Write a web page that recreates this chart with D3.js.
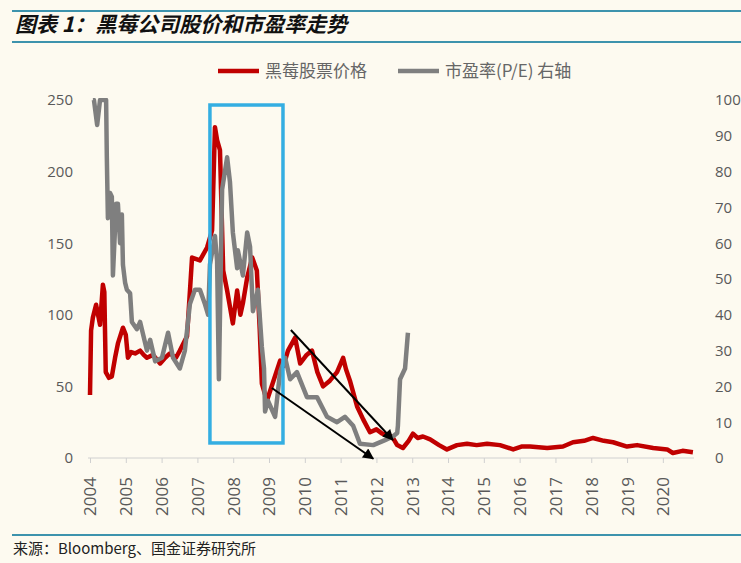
<!DOCTYPE html>
<html>
<head>
<meta charset="UTF-8">
<style>
body { margin: 0; background: #fdfaf0; }
svg { display: block; }
</style>
</head>
<body>
<svg></svg>
<script src="https://d3js.org/d3.v7.min.js"></script>
<script>
// 黑莓股价 (左轴), decimal years
const priceYears = [2004.00, 2004.03, 2004.08, 2004.17, 2004.28, 2004.36, 2004.40, 2004.44, 2004.53, 2004.61,
  2004.70, 2004.78, 2004.92, 2005.00, 2005.06, 2005.15, 2005.26, 2005.40, 2005.50, 2005.59, 2005.76, 2005.96,
  2006.10, 2006.23, 2006.40, 2006.51, 2006.71, 2006.80, 2006.85, 2007.07, 2007.27, 2007.41, 2007.49, 2007.55,
  2007.63, 2007.72, 2007.83, 2007.99, 2008.11, 2008.20, 2008.27, 2008.39, 2008.53, 2008.66, 2008.74, 2008.80,
  2008.94, 2009.10, 2009.31, 2009.40, 2009.53, 2009.73, 2009.87, 2010.05, 2010.20, 2010.35, 2010.51, 2010.70,
  2010.90, 2011.07, 2011.15, 2011.26, 2011.46, 2011.63, 2011.82, 2012.00, 2012.16, 2012.44, 2012.58, 2012.74,
  2012.90, 2013.02, 2013.15, 2013.30, 2013.50, 2013.75, 2013.97, 2014.25, 2014.53, 2014.80, 2015.09, 2015.45,
  2015.82, 2016.05, 2016.29, 2016.77, 2017.21, 2017.49, 2017.80, 2018.05, 2018.35, 2018.61, 2019.00, 2019.28,
  2019.73, 2020.12, 2020.28, 2020.55, 2020.84];
const priceValues = [44, 89, 98, 107, 93, 121, 116, 60, 56, 57,
  70, 80, 91, 86, 70, 74, 73, 75, 72, 70, 72, 66,
  70, 73, 70, 75, 85, 120, 140, 138, 147, 159, 231, 222,
  215, 131, 117, 94, 117, 100, 108, 126, 140, 131, 90, 52,
  40, 52, 68, 64, 75, 84, 66, 72, 75, 60, 50, 54,
  60, 70, 62, 54, 36, 27, 18, 20, 17, 15, 9, 7,
  12, 17, 14, 15, 13, 9, 6, 9, 10, 9, 10, 9,
  6, 8, 8, 7, 8, 11, 12, 14, 12, 11, 8, 9,
  7, 6, 3.5, 5, 4];

// 市盈率 (右轴)
const peYears = [2004.08, 2004.11, 2004.20, 2004.28, 2004.45, 2004.47, 2004.50, 2004.56, 2004.61, 2004.64,
  2004.73, 2004.78, 2004.84, 2004.89, 2004.92, 2004.98, 2005.03, 2005.12, 2005.17, 2005.31, 2005.40, 2005.59,
  2005.68, 2005.82, 2006.01, 2006.18, 2006.32, 2006.51, 2006.65, 2006.79, 2006.93, 2007.07, 2007.21, 2007.30,
  2007.35, 2007.49, 2007.55, 2007.60, 2007.69, 2007.83, 2007.91, 2007.99, 2008.11, 2008.13, 2008.27, 2008.39,
  2008.47, 2008.55, 2008.69, 2008.80, 2008.86, 2008.89, 2008.97, 2009.17, 2009.31, 2009.45, 2009.59, 2009.78,
  2010.06, 2010.34, 2010.62, 2010.90, 2011.12, 2011.35, 2011.54, 2011.91, 2012.24, 2012.46, 2012.58, 2012.60,
  2012.66, 2012.80, 2012.88];
const peValues = [100, 100, 93, 100, 100, 84, 67, 74, 73, 51,
  71, 71, 60, 68, 54, 49, 47, 46, 38, 36, 38, 30,
  33, 27, 28, 35, 28, 25, 30, 43, 47, 47, 43, 40,
  54, 62, 55, 22, 75, 84, 77, 63, 53, 58, 51, 63,
  59, 41, 47, 31, 25, 13, 16, 11.5, 24, 28, 22, 24,
  17, 17, 11.5, 10, 11.5, 9, 4, 3.6, 5, 6, 7, 9,
  22, 25, 35];

const yearTicks = ["2004", "2005", "2006", "2007", "2008", "2009", "2010", "2011", "2012",
  "2013", "2014", "2015", "2016", "2017", "2018", "2019", "2020"];
const leftTicks = [0, 50, 100, 150, 200, 250];
const rightTicks = [0, 10, 20, 30, 40, 50, 60, 70, 80, 90, 100];

// 标注: 蓝框 (年份, 股价) 和两个箭头
const boxYears = [2007.35, 2009.39];
const boxValues = [10.5, 246.5];
const arrowStartYears = [2009.61, 2009.08];
const arrowStartValues = [89.4, 48.9];
const arrowEndYears = [2012.46, 2011.91];
const arrowEndValues = [12.6, -0.5];

const width = 741, height = 563;
const svg = d3.select("svg").attr("width", width).attr("height", height);

svg.append("rect").attr("width", width).attr("height", height).attr("fill", "#fdfaf0");

const x = d3.scaleLinear().domain([2004, 2020.87]).range([90, 694]);
const yL = d3.scaleLinear().domain([0, 250]).range([458, 100]);
const yR = d3.scaleLinear().domain([0, 100]).range([458, 100]);

// title + rules
svg.append("line").attr("x1", 12).attr("x2", width).attr("y1", 11).attr("y2", 11)
  .attr("stroke", "#3d93ad").attr("stroke-width", 2);
svg.append("line").attr("x1", 12).attr("x2", width).attr("y1", 42).attr("y2", 42)
  .attr("stroke", "#3d93ad").attr("stroke-width", 2);
svg.append("text").attr("x", 15).attr("y", 32)
  .attr("font-family", "'Noto Sans CJK SC'").attr("font-weight", "bold").attr("font-style", "italic")
  .attr("font-size", 21).attr("fill", "#111")
  .text("图表 1：黑莓公司股价和市盈率走势");

svg.append("line").attr("x1", 12).attr("x2", width).attr("y1", 535).attr("y2", 535)
  .attr("stroke", "#3d93ad").attr("stroke-width", 2);
svg.append("text").attr("x", 13).attr("y", 554)
  .attr("font-family", "'Noto Sans CJK SC'").attr("font-size", 15).attr("fill", "#222")
  .text("来源：Bloomberg、国金证券研究所");

// legend
const legend = [["黑莓股票价格", "#c00000", 218], ["市盈率(P/E) 右轴", "#7f7f7f", 398]];
legend.forEach(l => {
  svg.append("line").attr("x1", l[2]).attr("x2", l[2] + 41).attr("y1", 71).attr("y2", 71)
    .attr("stroke", l[1]).attr("stroke-width", 4.5);
  svg.append("text").attr("x", l[2] + 47).attr("y", 77)
    .attr("font-family", "'Noto Sans CJK SC'").attr("font-size", 17).attr("fill", "#666")
    .text(l[0]);
});

// axes
const fontAxis = "'Open Sans', sans-serif";
const gx = svg.append("g").attr("transform", "translate(0,458)")
  .call(d3.axisBottom(x).tickValues(yearTicks.map(Number)).tickFormat(d => d).tickSize(5).tickSizeOuter(0));
gx.select(".domain").attr("stroke", "#d0d0d0").attr("d", "M88,0H694");
gx.selectAll(".tick line").attr("stroke", "#d0d0d0");
gx.selectAll("text")
  .attr("font-family", fontAxis).attr("font-size", 17).attr("fill", "#595959")
  .attr("transform", "rotate(-90)").attr("text-anchor", "end")
  .attr("x", -19).attr("y", 0).attr("dy", "0.35em");

const gl = svg.append("g").attr("transform", "translate(81,0)")
  .call(d3.axisLeft(yL).tickValues(leftTicks).tickSize(0).tickPadding(8));
gl.select(".domain").remove();
gl.selectAll("text").attr("font-family", fontAxis).attr("font-size", 15).attr("fill", "#595959");

const gr = svg.append("g").attr("transform", "translate(707,0)")
  .call(d3.axisRight(yR).tickValues(rightTicks).tickSize(0).tickPadding(8));
gr.select(".domain").remove();
gr.selectAll("text").attr("font-family", fontAxis).attr("font-size", 15).attr("fill", "#595959");

// series
svg.append("clipPath").attr("id", "plot")
  .append("rect").attr("x", 85).attr("y", 98).attr("width", 620).attr("height", 362);

const priceLine = d3.line().x(d => x(d[0])).y(d => yL(d[1]));
const peLine = d3.line().x(d => x(d[0])).y(d => yR(d[1]));

svg.append("path").datum(d3.zip(priceYears, priceValues))
  .attr("clip-path", "url(#plot)")
  .attr("fill", "none").attr("stroke", "#c00000").attr("stroke-width", 4.5)
  .attr("stroke-linejoin", "round").attr("d", priceLine);

svg.append("path").datum(d3.zip(peYears, peValues))
  .attr("clip-path", "url(#plot)")
  .attr("fill", "none").attr("stroke", "#7f7f7f").attr("stroke-width", 4.5)
  .attr("stroke-linejoin", "round").attr("d", peLine);

// annotations
svg.append("rect")
  .attr("x", x(boxYears[0])).attr("y", yL(boxValues[1]))
  .attr("width", x(boxYears[1]) - x(boxYears[0]))
  .attr("height", yL(boxValues[0]) - yL(boxValues[1]))
  .attr("fill", "none").attr("stroke", "#34aee2").attr("stroke-width", 3.5);

svg.append("defs").append("marker").attr("id", "arrow")
  .attr("viewBox", "0 0 10 10").attr("refX", 9).attr("refY", 5)
  .attr("markerWidth", 7).attr("markerHeight", 5.5).attr("orient", "auto")
  .attr("markerUnits", "strokeWidth")
  .append("path").attr("d", "M0,0L10,5L0,10Z").attr("fill", "#000");

arrowStartYears.forEach((s, i) => {
  svg.append("line")
    .attr("x1", x(s)).attr("y1", yL(arrowStartValues[i]))
    .attr("x2", x(arrowEndYears[i])).attr("y2", yL(arrowEndValues[i]))
    .attr("stroke", "#000").attr("stroke-width", 2)
    .attr("marker-end", "url(#arrow)");
});
</script>
</body>
</html>
